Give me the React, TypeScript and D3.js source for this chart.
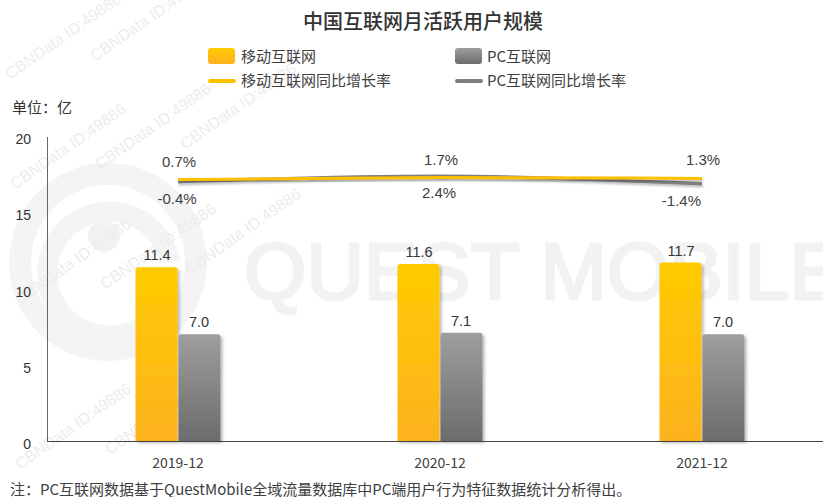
import React from "react";
import * as d3 from "d3";

const categories = ["2019-12", "2020-12", "2021-12"];
const mobileUsers = [11.4, 11.6, 11.7];
const pcUsers = [7.0, 7.1, 7.0];
const mobileGrowth = [0.7, 1.7, 1.3];
const pcGrowth = [-0.4, 2.4, -1.4];
const yTicks = [0, 5, 10, 15, 20];
const title = "中国互联网月活跃用户规模";
const legendLabels = ["移动互联网", "PC互联网", "移动互联网同比增长率", "PC互联网同比增长率"];
const unitLabel = "单位：亿";
const footnote = "注：PC互联网数据基于QuestMobile全域流量数据库中PC端用户行为特征数据统计分析得出。";

const W = 823;
const H = 497;
const NUM_FONT = "'Liberation Sans', Arial, sans-serif";
const CJK_FONT = "'Noto Sans CJK SC', 'Microsoft YaHei', sans-serif";

export default function App() {
  const x = d3.scaleBand<string>().domain(categories).range([47, 833]).padding(0);
  const y = d3.scaleLinear().domain([0, 20]).range([441, 136]);
  const y2 = d3.scaleLinear().domain([-130, 20.5]).range([441, 140]);
  const barW = 42;
  const cx = (c: string) => (x(c) as number) + x.bandwidth() / 2;

  const line = d3
    .line<number>()
    .x((_, i) => cx(categories[i]))
    .y((d) => y2(d))
    .curve(d3.curveMonotoneX);

  const barPath = (x0: number, top: number, w: number, bottom: number, r: number) =>
    `M${x0},${bottom}V${top + r}Q${x0},${top} ${x0 + r},${top}H${x0 + w - r}Q${x0 + w},${top} ${x0 + w},${top + r}V${bottom}Z`;

  const wmPositions: [number, number][] = [
    [10, 80], [95, 62], [15, 190], [100, 170], [185, 150],
    [20, 305], [105, 290], [190, 275], [20, 470], [110, 455],
  ];

  return (
    <div style={{ margin: 0 }}>
      <svg width={W} height={H} style={{ position: "absolute", left: 0, top: 0, background: "#fff" }}>
        <defs>
          <linearGradient id="gy" x1="0" y1="0" x2="0" y2="1">
            <stop offset="0%" stopColor="#FFCB00" />
            <stop offset="100%" stopColor="#FDB21F" />
          </linearGradient>
          <linearGradient id="gg" x1="0" y1="0" x2="0" y2="1">
            <stop offset="0%" stopColor="#9E9E9E" />
            <stop offset="100%" stopColor="#6C6C6C" />
          </linearGradient>
          <filter id="sh" x="-20%" y="-20%" width="150%" height="150%">
            <feDropShadow dx="2" dy="2" stdDeviation="1.5" floodColor="#000" floodOpacity="0.28" />
          </filter>
          <filter id="lsh" x="-5%" y="-100%" width="110%" height="300%">
            <feDropShadow dx="1" dy="2" stdDeviation="1.2" floodColor="#000" floodOpacity="0.25" />
          </filter>
        </defs>

        {/* watermark logo */}
        <g>
          <circle cx={108} cy={262} r={88} fill="none" stroke="#f4f4f4" strokeWidth={22} />
          <path d="M 150 320 A 62 62 0 1 1 170 262" fill="none" stroke="#f4f4f4" strokeWidth={20} />
          <circle cx={104} cy={236} r={16} fill="#f2f2f2" />
          <text
            x={244}
            y={299}
            fontFamily={NUM_FONT}
            fontSize={80}
            fill="#f2f2f2"
            stroke="#f2f2f2"
            strokeWidth={3}
          >
            QUEST MOBILE
          </text>
        </g>
        {wmPositions.map(([wx, wy], i) => (
          <text
            key={"wm" + i}
            x={wx}
            y={wy}
            transform={`rotate(-35 ${wx} ${wy})`}
            fontFamily={NUM_FONT}
            fontSize={16}
            fill="#ededed"
          >
            CBNData ID:49886
          </text>
        ))}

        {/* title */}
        <text x={423} y={29} textAnchor="middle" fontFamily={CJK_FONT} fontSize={20} fontWeight={500} fill="#333">
          {title}
        </text>

        {/* legend */}
        <g fontFamily={CJK_FONT} fontSize={15} fill="#404040">
          <rect x={208} y={48} width={27} height={16} rx={3} fill="url(#gy)" />
          <text x={241} y={62}>{legendLabels[0]}</text>
          <rect x={455} y={48} width={27} height={16} rx={3} fill="url(#gg)" />
          <text x={487} y={62}>{legendLabels[1]}</text>
          <line x1={210} x2={234} y1={81} y2={81} stroke="#FFC000" strokeWidth={4} strokeLinecap="round" />
          <text x={241} y={86}>{legendLabels[2]}</text>
          <line x1={457} x2={481} y1={81} y2={81} stroke="#7F7F7F" strokeWidth={4} strokeLinecap="round" />
          <text x={487} y={86}>{legendLabels[3]}</text>
        </g>

        {/* unit */}
        <text x={12} y={113} fontFamily={CJK_FONT} fontSize={15} fill="#333">
          {unitLabel}
        </text>

        {/* y ticks */}
        {yTicks.map((t) => (
          <text key={t} x={31} y={y(t) + 8} textAnchor="end" fontFamily={NUM_FONT} fontSize={14} fill="#333">
            {t}
          </text>
        ))}

        {/* bars */}
        {categories.map((c, i) => {
          const c0 = cx(c);
          return (
            <g key={c}>
              <path d={barPath(c0 - barW - 0.5, y(mobileUsers[i]), barW, y(0), 3)} fill="url(#gy)" filter="url(#sh)" />
              <path d={barPath(c0 + 0.5, y(pcUsers[i]), barW, y(0), 3)} fill="url(#gg)" filter="url(#sh)" />
              <text x={c0 - barW / 2} y={y(mobileUsers[i]) - 7} textAnchor="middle" fontFamily={NUM_FONT} fontSize={14.5} fill="#333">
                {mobileUsers[i].toFixed(1)}
              </text>
              <text x={c0 + barW / 2} y={y(pcUsers[i]) - 7} textAnchor="middle" fontFamily={NUM_FONT} fontSize={14.5} fill="#333">
                {pcUsers[i].toFixed(1)}
              </text>
            </g>
          );
        })}

        {/* axes */}
        <line x1={47.5} x2={47.5} y1={137} y2={441.5} stroke="#666" strokeWidth={1} />
        <line x1={47} x2={W} y1={441.5} y2={441.5} stroke="#444" strokeWidth={1.2} />
        {categories.map((c) => (
          <text key={"xl" + c} x={cx(c)} y={468} textAnchor="middle" fontFamily={CJK_FONT} fontSize={14} fill="#404040">
            {c}
          </text>
        ))}

        {/* growth lines */}
        <path d={line(pcGrowth) as string} fill="none" stroke="#7F7F7F" strokeWidth={3.5} filter="url(#lsh)" />
        <path d={line(mobileGrowth) as string} fill="none" stroke="#FFC000" strokeWidth={3} filter="url(#lsh)" />
        {categories.map((c, i) => (
          <g key={"gl" + c} fontFamily={NUM_FONT} fontSize={15} fill="#404040">
            <text x={cx(c) + 1} y={y2(mobileGrowth[i]) - 13} textAnchor="middle">
              {mobileGrowth[i].toFixed(1)}%
            </text>
            <text
              x={cx(c) - 1}
              y={y2(pcGrowth[i]) + 22}
              textAnchor={i === categories.length - 1 ? "end" : "middle"}
            >
              {pcGrowth[i].toFixed(1)}%
            </text>
          </g>
        ))}

        {/* footnote */}
        <text x={10} y={495} fontFamily={CJK_FONT} fontSize={15} fill="#404040">
          {footnote}
        </text>
      </svg>
    </div>
  );
}
